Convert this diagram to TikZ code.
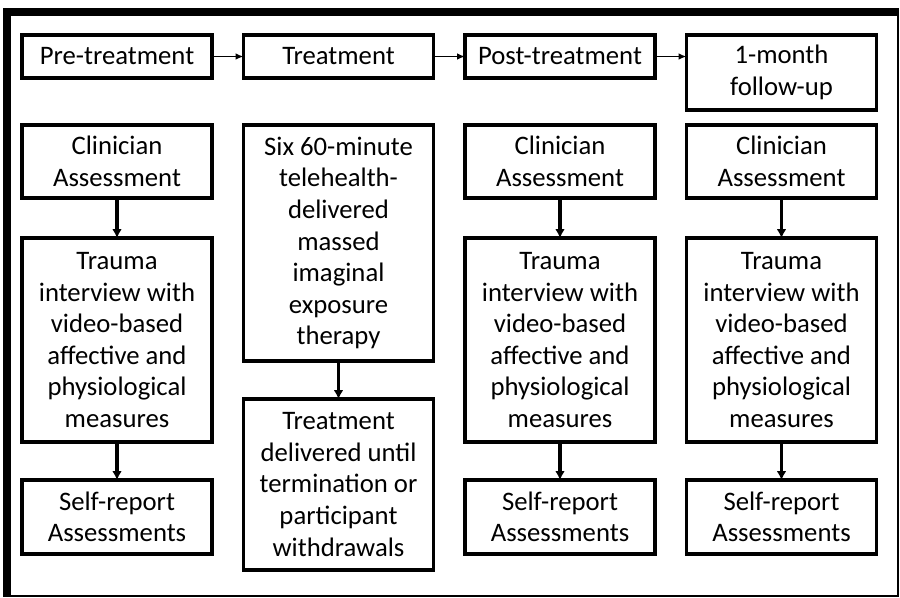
\documentclass[tikz,border=0pt]{standalone}
\usepackage{fontspec}
\setmainfont{Carlito}
\usetikzlibrary{positioning,arrows.meta}

\tikzset{
  box/.style={draw, line width=2pt, rectangle, align=center, inner sep=1pt, outer sep=0pt,
    minimum width=3.8cm, font=\fontsize{15.2}{18}\selectfont},
  flow/.style={-{Latex[length=4.5pt,width=3.8pt]}, line width=1pt},
  down/.style={-{Latex[length=5pt,width=5.5pt]}, line width=2pt}
}

\begin{document}
\begin{tikzpicture}
  \useasboundingbox (0,0) rectangle (18,-11.94);
  % outer frame
  \fill (0.06,-0.16) rectangle (0.22,-11.94);
  \fill (0.06,-0.16) rectangle (17.98,-0.32);
  \draw[line width=0.6pt] (17.96,-0.32) -- (17.96,-11.92) -- (0.22,-11.92);

  % phases
  \node[box, minimum height=0.86cm, anchor=north west] (Pre) at (0.44,-0.70) {Pre-treatment};
  \node[box, minimum height=0.86cm, right=0.63cm of Pre] (Treat) {Treatment};
  \node[box, minimum height=0.86cm, right=0.63cm of Treat] (Post) {Post-treatment};
  \node[box, minimum height=1.5cm, right=0.63cm of Post.north east, anchor=north west] (FU) {1-month\\follow-up};

  % pre-treatment column
  \node[box, minimum height=1.46cm, below=0.94cm of Pre] (CA1) {Clinician\\Assessment};
  \node[box, minimum height=4.08cm, below=0.8cm of CA1] (TI1) {Trauma\\interview with\\video-based\\affective and\\physiological\\measures};
  \node[box, minimum height=1.48cm, below=0.76cm of TI1] (SR1) {Self-report\\Assessments};

  % treatment column
  \node[box, minimum height=4.72cm, below=0.94cm of Treat] (Six) {Six 60-minute\\telehealth-\\delivered\\massed\\imaginal\\exposure\\therapy};
  \node[box, minimum height=3.42cm, below=0.76cm of Six] (Deliv) {Treatment\\delivered until\\termination or\\participant\\withdrawals};

  % post-treatment column
  \node[box, minimum height=1.46cm, below=0.94cm of Post] (CA3) {Clinician\\Assessment};
  \node[box, minimum height=4.08cm, below=0.8cm of CA3] (TI3) {Trauma\\interview with\\video-based\\affective and\\physiological\\measures};
  \node[box, minimum height=1.48cm, below=0.76cm of TI3] (SR3) {Self-report\\Assessments};

  % follow-up column
  \node[box, minimum height=1.46cm, below=0.3cm of FU] (CA4) {Clinician\\Assessment};
  \node[box, minimum height=4.08cm, below=0.8cm of CA4] (TI4) {Trauma\\interview with\\video-based\\affective and\\physiological\\measures};
  \node[box, minimum height=1.48cm, below=0.76cm of TI4] (SR4) {Self-report\\Assessments};

  \draw[flow] (Pre) -- (Treat);
  \draw[flow] (Treat) -- (Post);
  \draw[flow] (Post.east) -- (Post.east -| FU.west);

  \draw[down] (CA1) -- (TI1);
  \draw[down] (TI1) -- (SR1);
  \draw[down] (Six) -- (Deliv);
  \draw[down] (CA3) -- (TI3);
  \draw[down] (TI3) -- (SR3);
  \draw[down] (CA4) -- (TI4);
  \draw[down] (TI4) -- (SR4);
\end{tikzpicture}
\end{document}
